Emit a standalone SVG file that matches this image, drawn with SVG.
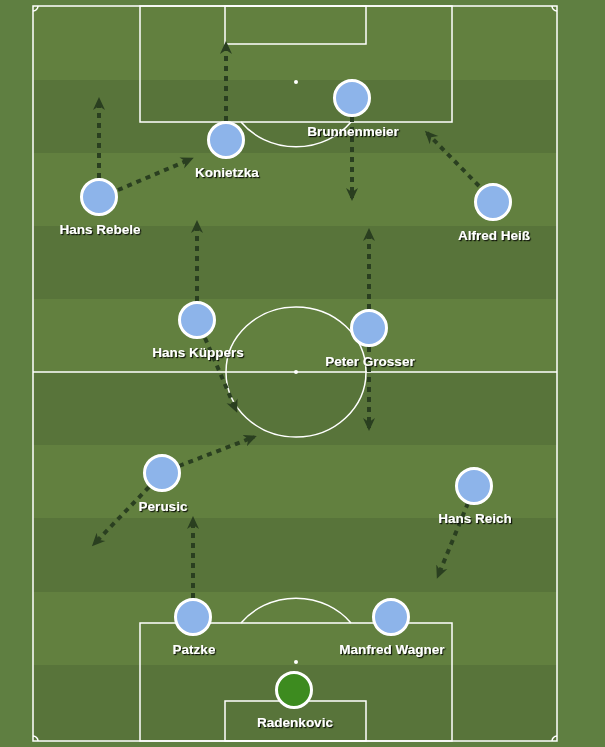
<svg xmlns="http://www.w3.org/2000/svg" width="605" height="747" viewBox="0 0 605 747">
<defs>
<style>
.line{fill:none;stroke:#ffffff;stroke-width:1.5}
.lt{fill:#62803f}
.dk{fill:#58743a}
.spot{fill:#ffffff}
.arrow{fill:none;stroke:#2a3f20;stroke-width:4;stroke-dasharray:5 5;marker-end:url(#ah)}
.p{fill:#8db4ea;stroke:#ffffff;stroke-width:3}
.gk{fill:#3d8b1f;stroke:#ffffff;stroke-width:3}
.lbl{font-family:"Liberation Sans",Arial,sans-serif;font-weight:bold;font-size:13.5px;fill:#ffffff;text-anchor:middle;filter:url(#sh)}
</style>
<marker id="ah" markerUnits="userSpaceOnUse" markerWidth="14" markerHeight="14" refX="10" refY="7" orient="auto" viewBox="0 0 14 14">
<path d="M0,1 L13,7 L0,13 L4,7 Z" fill="#2a3f20"/>
</marker>
<filter id="sh" x="-10%" y="-30%" width="130%" height="180%">
<feDropShadow dx="1.2" dy="1.2" stdDeviation="0.5" flood-color="#000000" flood-opacity="0.85"/>
</filter>
</defs>
<rect x="0" y="0" width="605" height="747" fill="#5f7f41"/>
<g id="pitch">
<rect class="lt" x="33" y="6" width="524" height="74"/>
<rect class="dk" x="33" y="80" width="524" height="73"/>
<rect class="lt" x="33" y="153" width="524" height="73"/>
<rect class="dk" x="33" y="226" width="524" height="73"/>
<rect class="lt" x="33" y="299" width="524" height="73"/>
<rect class="dk" x="33" y="372" width="524" height="73"/>
<rect class="lt" x="33" y="445" width="524" height="73"/>
<rect class="dk" x="33" y="518" width="524" height="74"/>
<rect class="lt" x="33" y="592" width="524" height="73"/>
<rect class="dk" x="33" y="665" width="524" height="76"/>
<rect class="line" x="33" y="6" width="524" height="735"/>
<line class="line" x1="33" y1="372" x2="557" y2="372"/>
<ellipse class="line" cx="296" cy="372" rx="70" ry="65"/>
<circle class="spot" cx="296" cy="372" r="2"/>
<rect class="line" x="140" y="6" width="312" height="116"/>
<rect class="line" x="225" y="6" width="141" height="38"/>
<circle class="spot" cx="296" cy="82" r="2"/>
<path class="line" d="M241,122 A70,65 0 0 0 351,122"/>
<rect class="line" x="140" y="623" width="312" height="118"/>
<rect class="line" x="225" y="701" width="141" height="40"/>
<circle class="spot" cx="296" cy="662" r="2"/>
<path class="line" d="M241,623 A70,65 0 0 1 351,623"/>
<path class="line" d="M33,11 A5,5 0 0 0 38,6"/>
<path class="line" d="M552,6 A5,5 0 0 0 557,11"/>
<path class="line" d="M33,736 A5,5 0 0 1 38,741"/>
<path class="line" d="M552,741 A5,5 0 0 1 557,736"/>
</g>
<g id="connectors">
<path class="arrow" d="M226,121 L226,44"/>
<path class="arrow" d="M99,178 L99,100"/>
<path class="arrow" d="M118,190 L191,159"/>
<path class="arrow" d="M352,117 L352,198"/>
<path class="arrow" d="M479,186 L427,133"/>
<path class="arrow" d="M197,301 L197,223"/>
<path class="arrow" d="M205,338 L236,410"/>
<path class="arrow" d="M369,309 L369,231"/>
<path class="arrow" d="M369,347 L369,428"/>
<path class="arrow" d="M179,466 L254,437"/>
<path class="arrow" d="M149,487 L94,544"/>
<path class="arrow" d="M193,598 L193,519"/>
<path class="arrow" d="M468,503 L438,576"/>
</g>
<g id="brunnenmeier"><circle class="p" cx="352" cy="98" r="17.5"/><text class="lbl" x="353" y="136">Brunnenmeier</text></g>
<g id="konietzka"><circle class="p" cx="226" cy="140" r="17.5"/><text class="lbl" x="227" y="177">Konietzka</text></g>
<g id="hans-rebele"><circle class="p" cx="99" cy="197" r="17.5"/><text class="lbl" x="100" y="234">Hans Rebele</text></g>
<g id="alfred-heiss"><circle class="p" cx="493" cy="202" r="17.5"/><text class="lbl" x="494" y="240">Alfred Heiß</text></g>
<g id="hans-kueppers"><circle class="p" cx="197" cy="320" r="17.5"/><text class="lbl" x="198" y="357">Hans Küppers</text></g>
<g id="peter-grosser"><circle class="p" cx="369" cy="328" r="17.5"/><text class="lbl" x="370" y="366">Peter Grosser</text></g>
<g id="perusic"><circle class="p" cx="162" cy="473" r="17.5"/><text class="lbl" x="163" y="511">Perusic</text></g>
<g id="hans-reich"><circle class="p" cx="474" cy="486" r="17.5"/><text class="lbl" x="475" y="523">Hans Reich</text></g>
<g id="patzke"><circle class="p" cx="193" cy="617" r="17.5"/><text class="lbl" x="194" y="654">Patzke</text></g>
<g id="manfred-wagner"><circle class="p" cx="391" cy="617" r="17.5"/><text class="lbl" x="392" y="654">Manfred Wagner</text></g>
<g id="radenkovic"><circle class="gk" cx="294" cy="690" r="17.5"/><text class="lbl" x="295" y="727">Radenkovic</text></g>
</svg>
